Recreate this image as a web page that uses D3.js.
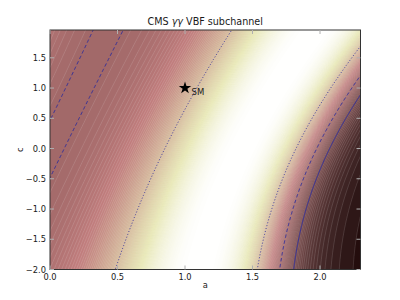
<html>
<head><meta charset="utf-8"></head>
<script src='https://d3js.org/d3.v7.min.js'></script>
<style>
body {margin: 0; background: white;}
text {font-family: 'DejaVu Sans', sans-serif; fill: #1a1a1a;}
</style>
<body>
<svg width=400 height=300></svg>
<script>

// axis ranges and tick values
var aRange = [0, 2.3];
var cRange = [-2, 1.96];
var xTicks = [0.0, 0.5, 1.0, 1.5, 2.0];
var yTicks = [-2.0, -1.5, -1.0, -0.5, 0.0, 0.5, 1.0, 1.5];

// h -> gamma gamma amplitude: W loop and top loop coefficients
var loopCoef = [1.28, -0.28];
var widthCoef = 0.041;

// profile of the VBF gamma gamma fit (below / above the best signal strength)
var muBest = 3.6;
var lowScale = 0.2345, lowPow = 1.68;
var muOneUp = 5.66, upRate = 0.5;

// chi2 levels drawn as lines
var chiLevels = [1, 4, 9];
var chiDash = ["1,2", "3.5,2.5", null];

var smPoint = [1, 1];
var nBands = 120;

var svg = d3.select("svg");
var plotL = 50, plotR = 360.5, plotT = 30, plotB = 269.5;

var x = d3.scaleLinear().domain(aRange).range([plotL, plotR]);
var y = d3.scaleLinear().domain(cRange).range([plotB, plotT]);

function mu(a, c) {
  var g = loopCoef[0] * a + loopCoef[1] * c;
  return g * g / (1 + widthCoef * (c * c - 1));
}

function chi2(a, c) {
  var m = mu(a, c), h;
  if (m < muBest) h = -lowScale * Math.pow(muBest - m, lowPow);
  else h = (Math.exp(upRate * m) - Math.exp(upRate * muBest)) /
           (Math.exp(upRate * muOneUp) - Math.exp(upRate * muBest));
  return h * h;
}

// matplotlib "pink" colormap
function pink(v) {
  var r = v < 0.365079 ? 0.0416 + (1 - 0.0416) * v / 0.365079 : 1;
  var g = v < 0.365079 ? 0 : v < 0.746032 ? (v - 0.365079) / (0.746032 - 0.365079) : 1;
  var b = v < 0.746032 ? 0 : (v - 0.746032) / (1 - 0.746032);
  return d3.rgb(255 * Math.sqrt((2 * v + r) / 3),
                255 * Math.sqrt((2 * v + g) / 3),
                255 * Math.sqrt((2 * v + b) / 3)).toString();
}

// sample grid, a bit larger than the axes so that edge rings fall outside
var a0 = -0.04, c0 = -2.06, da = 0.008, dc = 0.015;
var nx = Math.ceil((2.34 - a0) / da) + 1;
var ny = Math.ceil((2.02 - c0) / dc) + 1;
var chiGrid = new Array(nx * ny), shade = new Array(nx * ny);
for (var j = 0; j < ny; j++) {
  for (var i = 0; i < nx; i++) {
    var v = chi2(a0 + i * da, c0 + j * dc);
    chiGrid[j * nx + i] = v;
    shade[j * nx + i] = 1 - Math.pow(1 + v, -0.85);
  }
}

var path = d3.geoPath(d3.geoTransform({
  point: function(px, py) { this.stream.point(x(a0 + px * da), y(c0 + py * dc)); }
}));

svg.append("clipPath").attr("id", "plot")
  .append("rect").attr("x", plotL).attr("y", plotT)
  .attr("width", plotR - plotL).attr("height", plotB - plotT);

var plot = svg.append("g").attr("clip-path", "url(#plot)");

// filled bands
var bands = d3.contours().size([nx, ny])
  .thresholds(d3.range(nBands).map(function(i) { return i / nBands; }))(shade);

plot.append("g").selectAll("path")
  .data(bands)
  .enter().append("path")
    .attr("d", path)
    .attr("fill", function(d, i) { return pink(1 - (i + 0.5) / nBands); })
    .attr("stroke", "rgba(255,255,255,0.28)")
    .attr("stroke-width", 0.5);

// chi2 = 1, 4, 9 lines
var lines = d3.contours().size([nx, ny]).thresholds(chiLevels)(chiGrid);
plot.append("g").selectAll("path")
  .data(lines)
  .enter().append("path")
    .attr("d", path)
    .attr("fill", "none")
    .attr("stroke", "#2b2b9e")
    .attr("stroke-width", 0.9)
    .attr("stroke-dasharray", function(d, i) { return chiDash[i]; });

// SM point
svg.append("path")
  .attr("d", d3.symbol().type(d3.symbolStar).size(48))
  .attr("transform", "translate(" + x(smPoint[0]) + "," + y(smPoint[1]) + ")")
  .attr("fill", "black");
svg.append("text")
  .text("SM")
  .attr("x", x(smPoint[0]) + 6.5)
  .attr("y", y(smPoint[1]) + 7)
  .style("font-size", "8.5px");

// frame
svg.append("rect")
  .attr("x", plotL).attr("y", plotT)
  .attr("width", plotR - plotL).attr("height", plotB - plotT)
  .attr("fill", "none").attr("stroke", "#333").attr("stroke-width", 1);

// inward ticks on all sides
var ticks = svg.append("g").attr("stroke", "#b0b0b0").attr("stroke-width", 1);
xTicks.forEach(function(t) {
  ticks.append("line").attr("x1", x(t)).attr("x2", x(t)).attr("y1", plotB).attr("y2", plotB - 4);
  ticks.append("line").attr("x1", x(t)).attr("x2", x(t)).attr("y1", plotT).attr("y2", plotT + 4);
});
yTicks.forEach(function(t) {
  ticks.append("line").attr("x1", plotL).attr("x2", plotL + 4).attr("y1", y(t)).attr("y2", y(t));
  ticks.append("line").attr("x1", plotR).attr("x2", plotR - 4).attr("y1", y(t)).attr("y2", y(t));
});

var fmt = function(t) { return d3.format(".1f")(t).replace("-", "\u2212"); };

svg.append("g").selectAll("text")
  .data(xTicks).enter().append("text")
    .text(fmt)
    .attr("x", function(d) { return x(d); })
    .attr("y", plotB + 10.5)
    .attr("text-anchor", "middle")
    .style("font-size", "8.3px");

svg.append("g").selectAll("text")
  .data(yTicks).enter().append("text")
    .text(fmt)
    .attr("x", plotL - 4)
    .attr("y", function(d) { return y(d) + 3; })
    .attr("text-anchor", "end")
    .style("font-size", "8.3px");

// axis labels and title
svg.append("text").text("a")
  .attr("x", (plotL + plotR) / 2).attr("y", 288)
  .attr("text-anchor", "middle").style("font-size", "8.3px");

svg.append("text").text("c")
  .attr("transform", "translate(23," + ((plotT + plotB) / 2) + ") rotate(-90)")
  .attr("text-anchor", "middle").style("font-size", "8.3px");

var title = svg.append("text")
  .attr("x", (plotL + plotR) / 2).attr("y", 25)
  .attr("text-anchor", "middle").style("font-size", "9.6px");
title.append("tspan").text("CMS ");
title.append("tspan").text("\u03b3\u03b3").style("font-style", "italic");
title.append("tspan").text(" VBF subchannel");

</script>
</body>
</html>
